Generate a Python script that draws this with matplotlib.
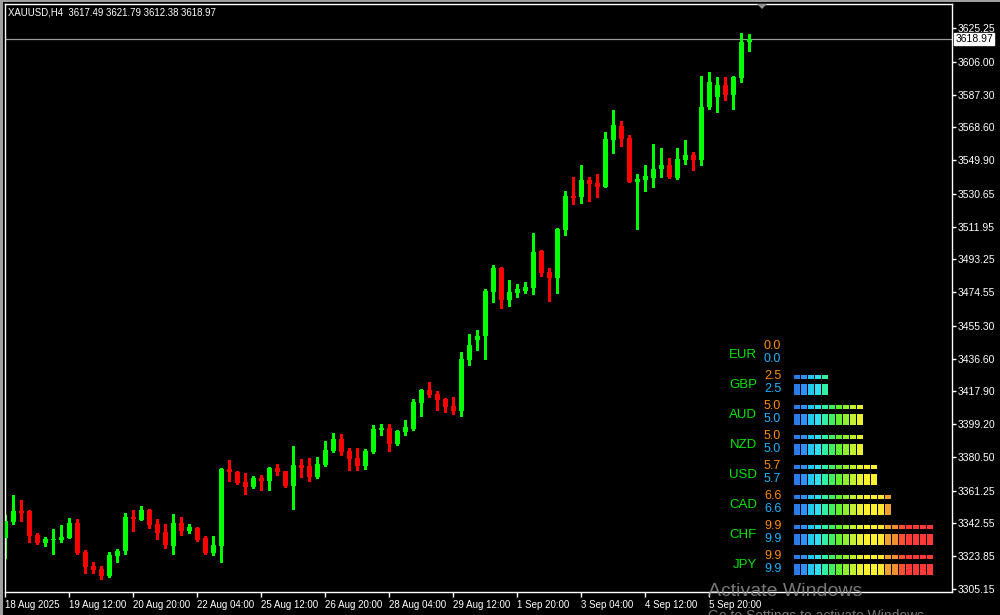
import math
import matplotlib
matplotlib.use('Agg')
import matplotlib.pyplot as plt
import matplotlib.transforms as mtransforms
from matplotlib.patches import Rectangle, Polygon

# XAUUSD H4 candles
symbol = 'XAUUSD,H4'
opens = [3334.3, 3343.4, 3349.7, 3349.7, 3336.0, 3331.4, 3333.1, 3333.1, 3334.3, 3342.8,
         3326.3, 3318.3, 3316.6, 3312.6, 3324.0, 3326.8, 3346.2, 3344.5, 3350.2, 3342.2,
         3337.7, 3329.7, 3342.8, 3338.2, 3340.0, 3334.3, 3325.7, 3329.7, 3373.6, 3371.9,
         3366.2, 3363.4, 3368.5, 3366.8, 3374.2, 3372.5, 3363.9, 3375.9, 3375.3, 3369.1,
         3375.9, 3383.9, 3390.7, 3383.9, 3379.9, 3375.3, 3383.3, 3395.9, 3397.0, 3387.9,
         3394.7, 3396.4, 3411.3, 3418.7, 3416.4, 3413.6, 3409.6, 3406.7, 3435.8, 3447.2,
         3449.5, 3474.6, 3488.3, 3470.1, 3474.0, 3475.2, 3476.9, 3498.0, 3486.0, 3482.6,
         3510.0, 3529.4, 3528.8, 3538.5, 3536.8, 3534.5, 3561.3, 3569.3, 3562.5, 3537.4,
         3538.5, 3539.7, 3544.8, 3547.1, 3539.7, 3549.9, 3552.8, 3549.9, 3580.2, 3585.9,
         3592.7, 3587.0, 3596.7, 3617.49]
highs = [3347.4, 3358.8, 3355.9, 3350.0, 3337.1, 3334.8, 3339.4, 3341.7, 3345.7, 3345.1,
         3327.4, 3320.6, 3318.3, 3326.3, 3328.0, 3348.5, 3350.2, 3352.5, 3350.8, 3345.1,
         3342.2, 3347.9, 3346.2, 3342.2, 3340.5, 3335.4, 3335.4, 3374.2, 3378.8, 3372.5,
         3371.3, 3369.6, 3370.2, 3374.8, 3376.5, 3372.7, 3386.7, 3379.3, 3379.9, 3380.5,
         3389.6, 3394.2, 3393.6, 3385.6, 3385.6, 3385.0, 3398.7, 3399.3, 3399.3, 3395.9,
         3401.6, 3413.6, 3419.3, 3423.3, 3418.1, 3414.1, 3414.7, 3440.4, 3450.6, 3452.9,
         3476.3, 3490.0, 3488.8, 3481.5, 3479.2, 3480.3, 3508.3, 3498.6, 3488.3, 3511.0,
         3532.2, 3540.2, 3547.1, 3540.2, 3541.9, 3565.9, 3578.5, 3572.2, 3564.2, 3541.9,
         3547.1, 3559.1, 3556.8, 3551.1, 3556.8, 3561.3, 3554.5, 3597.9, 3600.1, 3597.3,
         3597.3, 3597.6, 3622.4, 3621.79]
lows = [3322.8, 3342.2, 3344.0, 3332.0, 3330.8, 3329.7, 3325.1, 3332.0, 3334.0, 3325.1,
        3314.3, 3314.3, 3310.9, 3312.0, 3320.6, 3325.1, 3338.2, 3344.3, 3340.0, 3333.7,
        3328.5, 3325.1, 3336.0, 3337.1, 3332.5, 3325.4, 3324.6, 3320.6, 3366.8, 3365.2,
        3359.4, 3362.8, 3361.6, 3361.6, 3370.2, 3363.4, 3350.8, 3369.1, 3366.8, 3368.5,
        3375.3, 3383.6, 3381.6, 3373.1, 3373.1, 3373.6, 3382.8, 3393.0, 3383.9, 3387.3,
        3393.0, 3395.9, 3403.9, 3414.7, 3407.3, 3406.1, 3405.0, 3403.9, 3433.0, 3441.5,
        3436.4, 3468.9, 3465.5, 3466.6, 3471.8, 3474.0, 3473.5, 3483.7, 3469.5, 3474.0,
        3507.1, 3524.8, 3525.4, 3526.5, 3528.8, 3534.3, 3553.9, 3557.9, 3537.2, 3510.6,
        3532.2, 3534.5, 3540.2, 3539.7, 3539.1, 3547.7, 3544.2, 3547.1, 3579.0, 3577.3,
        3584.2, 3579.0, 3594.4, 3612.38]
closes = [3344.0, 3349.7, 3348.5, 3335.4, 3331.4, 3333.7, 3333.7, 3334.8, 3342.8, 3325.7,
          3317.7, 3316.0, 3312.6, 3324.6, 3326.8, 3346.2, 3345.1, 3350.2, 3341.7, 3337.1,
          3330.3, 3342.8, 3338.2, 3340.5, 3333.1, 3325.7, 3330.3, 3373.6, 3371.9, 3365.6,
          3363.4, 3368.5, 3366.8, 3374.2, 3371.9, 3363.9, 3375.9, 3374.2, 3369.1, 3376.5,
          3384.5, 3390.7, 3383.3, 3379.3, 3375.3, 3383.9, 3396.4, 3397.0, 3387.9, 3395.3,
          3397.6, 3411.9, 3418.7, 3415.8, 3413.0, 3409.0, 3406.7, 3436.4, 3444.4, 3449.5,
          3475.2, 3488.3, 3470.1, 3474.6, 3476.3, 3477.5, 3497.4, 3485.5, 3482.6, 3510.6,
          3529.4, 3528.3, 3538.5, 3536.2, 3534.5, 3561.9, 3569.9, 3561.9, 3537.4, 3539.1,
          3540.8, 3544.8, 3547.1, 3540.2, 3550.5, 3552.8, 3549.9, 3580.2, 3594.4, 3592.7,
          3587.0, 3597.3, 3617.5, 3618.97]

date_labels = ['18 Aug 2025', '19 Aug 12:00', '20 Aug 20:00', '22 Aug 04:00',
               '25 Aug 12:00', '26 Aug 20:00', '28 Aug 04:00', '29 Aug 12:00',
               '1 Sep 20:00', '3 Sep 04:00', '4 Sep 12:00', '5 Sep 20:00']
label_step = 8  # one date label every 8 bars

price_ticks = [3625.25, 3606.00, 3587.30, 3568.60, 3549.90, 3530.65, 3511.95, 3493.25,
               3474.55, 3455.30, 3436.60, 3417.90, 3399.20, 3380.50, 3361.25, 3342.55,
               3323.85, 3305.15]

# currency strength panel
currencies = ['EUR', 'GBP', 'AUD', 'NZD', 'USD', 'CAD', 'CHF', 'JPY']
strength_fast = [0.0, 2.5, 5.0, 5.0, 5.7, 6.6, 9.9, 9.9]
strength_slow = [0.0, 2.5, 5.0, 5.0, 5.7, 6.6, 9.9, 9.9]
seg_colors = ['#2b7be8', '#3090ff', '#20c8f0', '#30e0f0', '#30f0a8', '#40f060', '#60f030',
              '#90f030', '#c0f030', '#e8f030', '#fff030', '#fff030', '#ffe830', '#f0a030',
              '#f09030', '#ff5030', '#ff3838', '#ff3838', '#ff3838', '#ff3838']

plt.rcParams['font.family'] = ['Liberation Sans', 'DejaVu Sans']

W, H = 1000, 615
fig = plt.figure(figsize=(W / 100, H / 100), dpi=100, facecolor='black')
ax = fig.add_axes([4.5 / W, (H - 592) / H, 947.5 / W, 588 / H])
ax.set_facecolor('black')

n = len(opens)
idx = list(range(n))
cols = ['#00ff00' if c >= o else '#ff0000' for o, c in zip(opens, closes)]
ax.vlines(idx, lows, highs, colors=cols, linewidth=1, antialiased=False, zorder=2)
bottoms = [min(o, c) for o, c in zip(opens, closes)]
heights = [max(abs(c - o), 0.6) for o, c in zip(opens, closes)]
ax.bar(idx, heights, bottom=bottoms, width=0.62, color=cols, linewidth=0,
       antialiased=False, zorder=3)

ax.set_xlim(-0.1, 118.34)
ax.set_ylim(3303.44, 3638.95)

for s in ax.spines.values():
    s.set_color('white')
    s.set_linewidth(1)

ax.yaxis.tick_right()
ax.set_yticks(price_ticks)
ax.set_yticklabels([f'{p:.2f}' for p in price_ticks])
ax.tick_params(axis='y', colors='white', labelsize=7.5, length=3, width=1, pad=1)

ax.set_xticks(range(0, n, label_step))
ax.set_xticklabels(date_labels)
ax.tick_params(axis='x', colors='white', labelsize=7.0, length=3.5, width=1, pad=2)
for lbl in ax.get_xticklabels():
    lbl.set_ha('left')

# current price line + label
last = closes[-1]
ax.axhline(last, color='#9a9a9a', linewidth=0.9, zorder=1)
trans = mtransforms.blended_transform_factory(ax.transAxes, ax.transData)
ax.text(1.0035, last, f'{last:.2f}', transform=trans, color='black', fontsize=7.5,
        va='center', ha='left', clip_on=False,
        bbox=dict(boxstyle='square,pad=0.12', fc='white', ec='white'))

# header
fig.text(8 / W, 1 - 12.5 / H,
         f'{symbol}  {opens[-1]:.2f} {highs[-1]:.2f} {lows[-1]:.2f} {closes[-1]:.2f}',
         color='white', fontsize=6.9, va='center')

# overlay in pixel coordinates for the indicator panel
ov = fig.add_axes([0, 0, 1, 1])
ov.set_xlim(0, W)
ov.set_ylim(H, 0)
ov.axis('off')
ov.patch.set_alpha(0)

panel_x, seg_pitch, seg_w = 794, 7, 6
row0, row_gap = 355.5, 30
for i, cur in enumerate(currencies):
    yc = row0 + i * row_gap
    ov.text(757, yc, cur, color='#00e600', fontsize=9.5, ha='right', va='center')
    ov.text(764, yc - 9.5, f'{strength_fast[i]:.1f}', color='#ff8c00', fontsize=9, va='center')
    ov.text(764, yc + 3.5, f'{strength_slow[i]:.1f}', color='#1eb4ff', fontsize=9, va='center')
    for k in range(math.ceil(strength_fast[i] * 2 - 1e-9)):
        ov.add_patch(Rectangle((panel_x + k * seg_pitch, yc - 11), seg_w, 4.5,
                               facecolor=seg_colors[k], linewidth=0))
    for k in range(math.ceil(strength_slow[i] * 2 - 1e-9)):
        ov.add_patch(Rectangle((panel_x + k * seg_pitch, yc - 2), seg_w, 11,
                               facecolor=seg_colors[k], linewidth=0))

# chart shift marker
ov.add_patch(Polygon([[757, 4], [767, 4], [762, 9]], closed=True, facecolor='#909090', linewidth=0))

# window frame bits
ov.add_patch(Rectangle((0, 0), 2.5, H, facecolor='#a0a0a0', linewidth=0))
ov.add_patch(Rectangle((0, 0), W, 1.5, facecolor='#a0a0a0', linewidth=0))

# windows watermark (second line is cut by the window edge, as in the screenshot)
ov.text(708, 592, 'Activate Windows', color='#8c8c8c', fontsize=14, va='center', alpha=0.85)
ov.text(708, 616, 'Go to Settings to activate Windows.', color='#8c8c8c', fontsize=10,
        va='center', alpha=0.85)

fig.savefig('out.png', dpi=100, facecolor='black')
